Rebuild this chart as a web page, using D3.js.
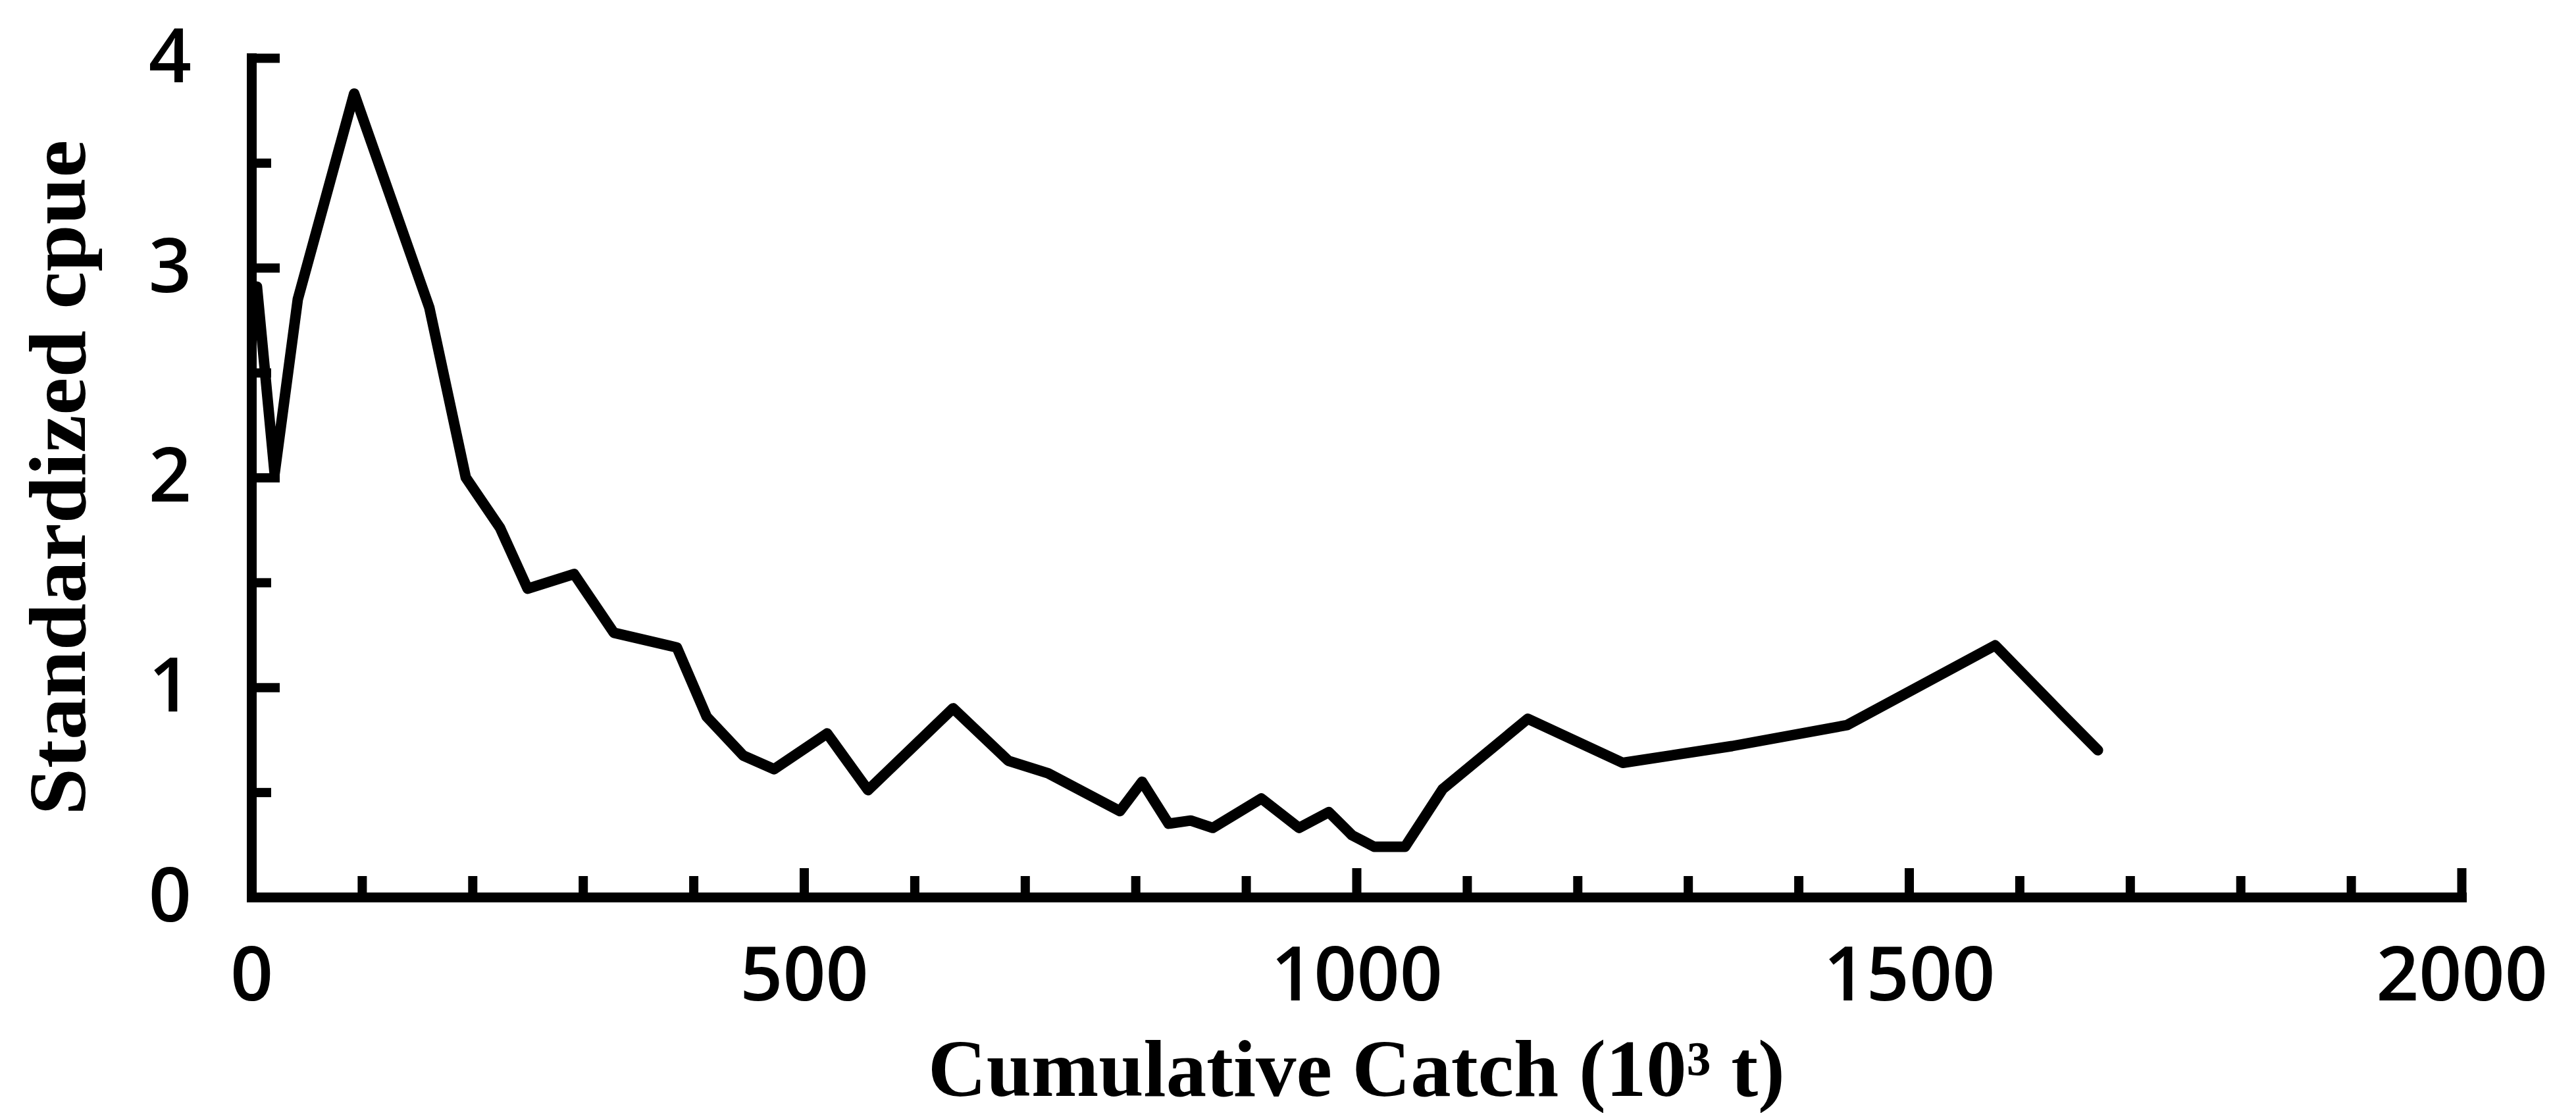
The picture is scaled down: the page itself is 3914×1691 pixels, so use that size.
<!DOCTYPE html>
<html>
<head>
<meta charset="utf-8">
<script src="https://cdn.jsdelivr.net/npm/d3@7"></script>
<style>
  body { margin: 0; background: #fff; }
  svg { display: block; }
  .tick text { font-family: 'Open Sans', sans-serif; font-weight: 600; font-size: 114px; fill: #000; }
  .title { font-family: 'Liberation Serif', serif; font-weight: bold; font-size: 122px; fill: #000; }
</style>
</head>
<body>
<svg id="chart"></svg>
<script>
// cumulative catch (10^3 t) and standardized cpue
const catchCum = [5, 21, 42, 93, 161, 194, 225, 250, 292, 328, 385, 412, 445, 473, 521, 558, 635, 685, 721, 786, 806, 830, 850, 870, 914, 948, 975, 996, 1016, 1044, 1078, 1155, 1241, 1340, 1444, 1578, 1639, 1671]
const cpue = [2.91, 2.02, 2.85, 3.83, 2.81, 2.00, 1.76, 1.47, 1.54, 1.26, 1.19, 0.86, 0.675, 0.61, 0.78, 0.51, 0.90, 0.65, 0.59, 0.41, 0.55, 0.35, 0.365, 0.33, 0.47, 0.33, 0.405, 0.295, 0.24, 0.24, 0.515, 0.85, 0.64, 0.72, 0.82, 1.20, 0.87, 0.70]

const yMajorTicks = [0, 1, 2, 3, 4]
const yMinorTicks = [0.5, 1.5, 2.5, 3.5]
const xMajorTicks = [0, 500, 1000, 1500, 2000]
const xMinorTicks = [100, 200, 300, 400, 600, 700, 800, 900, 1100, 1200, 1300, 1400, 1600, 1700, 1800, 1900]

const width = 3914
const height = 1691
const plot = { left: 382, right: 3740, top: 88, bottom: 1363 }

const svg = d3.select('#chart').attr('width', width).attr('height', height)
svg.append('rect').attr('width', width).attr('height', height).attr('fill', '#fff')

const x = d3.scaleLinear().domain([0, 2000]).range([plot.left, plot.right])
const y = d3.scaleLinear().domain([0, 4]).range([plot.bottom, plot.top])

// minor ticks (no labels)
const gyMinor = svg.append('g')
  .attr('transform', `translate(${plot.left}, 0)`)
  .call(d3.axisLeft(y).tickValues(yMinorTicks).tickSize(-30).tickFormat(''))
gyMinor.select('.domain').remove()

const gxMinor = svg.append('g')
  .attr('transform', `translate(0, ${plot.bottom})`)
  .call(d3.axisBottom(x).tickValues(xMinorTicks).tickSize(-32).tickFormat(''))
gxMinor.select('.domain').remove()

// major ticks + labels
const gy = svg.append('g')
  .attr('transform', `translate(${plot.left}, 0)`)
  .call(d3.axisLeft(y).tickValues(yMajorTicks).tickSize(-43).tickSizeOuter(0).tickPadding(91).tickFormat(d3.format('d')))

const gx = svg.append('g')
  .attr('transform', `translate(0, ${plot.bottom})`)
  .call(d3.axisBottom(x).tickValues(xMajorTicks).tickSize(-44).tickSizeOuter(0).tickPadding(76).tickFormat(d3.format('d')))

svg.selectAll('.tick line').attr('stroke', '#000').attr('stroke-width', 14)
svg.selectAll('.domain').attr('stroke', '#000').attr('stroke-width', 15).attr('stroke-linecap', 'square')

// data line
const line = d3.line()
  .x((d, i) => x(catchCum[i]))
  .y(d => y(d))

svg.append('path')
  .datum(cpue)
  .attr('d', line)
  .attr('fill', 'none')
  .attr('stroke', '#000')
  .attr('stroke-width', 16)
  .attr('stroke-linejoin', 'round')
  .attr('stroke-linecap', 'round')

// axis titles
svg.append('text')
  .attr('class', 'title')
  .attr('x', (plot.left + plot.right) / 2)
  .attr('y', 1665)
  .attr('text-anchor', 'middle')
  .attr('textLength', 1302)
  .attr('lengthAdjust', 'spacingAndGlyphs')
  .text('Cumulative Catch (10³ t)')

svg.append('text')
  .attr('class', 'title')
  .attr('transform', `translate(129, ${(plot.top + plot.bottom) / 2}) rotate(-90)`)
  .attr('text-anchor', 'middle')
  .attr('textLength', 1026)
  .attr('lengthAdjust', 'spacingAndGlyphs')
  .text('Standardized cpue')
</script>
</body>
</html>
